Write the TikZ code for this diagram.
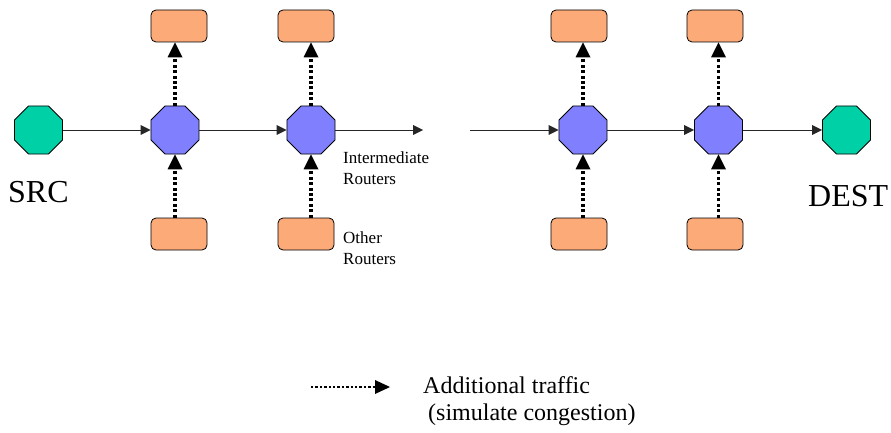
\documentclass[tikz,border=0pt]{standalone}
\usepackage{fontspec}
\setmainfont{Liberation Serif}
\newfontfamily\timesfont{Liberation Serif}
\usetikzlibrary{shapes.geometric,arrows.meta}
\definecolor{srcgreen}{RGB}{0,208,166}
\definecolor{routerblue}{RGB}{128,128,255}
\definecolor{boxorange}{RGB}{252,170,120}
\begin{document}
\begin{tikzpicture}[x=1pt,y=-1pt,
  endpt/.style={regular polygon, regular polygon sides=8, minimum size=52pt, inner sep=0pt, fill=srcgreen, draw=black, line width=0.8pt},
  router/.style={regular polygon, regular polygon sides=8, minimum size=52pt, inner sep=0pt, fill=routerblue, draw=black, line width=0.8pt},
  otherbox/.style={rectangle, rounded corners=5pt, minimum width=56pt, minimum height=32pt, inner sep=0pt, fill=boxorange, draw=black, line width=0.8pt},
  flow/.style={draw=black!85, line width=0.9pt, -{Triangle[length=10pt,width=10pt,line width=0pt]}},
  traffic/.style={draw=black, line width=3.2pt, dash pattern=on 3pt off 2.4pt, -{Triangle[length=15pt,width=15pt,line width=0pt]}},
  legendtraffic/.style={draw=black, line width=2.4pt, dash pattern=on 2.4pt off 2pt, -{Triangle[length=15pt,width=14pt,line width=0pt]}},
  lbl/.style={anchor=base west, inner sep=0pt, font=\timesfont\fontsize{17}{20}\selectfont},
  biglbl/.style={anchor=base west, inner sep=0pt, font=\timesfont\fontsize{32}{36}\selectfont},
  leglbl/.style={anchor=base west, inner sep=0pt, font=\timesfont\fontsize{24}{28}\selectfont}]
\useasboundingbox (0,0) rectangle (891,433);

\node[endpt] (src) at (38.5,130) {};
\node[router] (r1) at (175,130) {};
\node[router] (r2) at (311,130) {};
\node[router] (r3) at (583,130) {};
\node[router] (r4) at (718.5,130) {};
\node[endpt] (dest) at (846.5,130) {};

\node[otherbox] (t1) at (179,26) {};
\node[otherbox] (b1) at (179,234) {};
\node[otherbox] (t2) at (306,26) {};
\node[otherbox] (b2) at (306,234) {};
\node[otherbox] (t3) at (579,26) {};
\node[otherbox] (b3) at (579,234) {};
\node[otherbox] (t4) at (715,26) {};
\node[otherbox] (b4) at (715,234) {};

\coordinate (gapL) at (423,130);
\coordinate (gapR) at (470,130);

\draw[flow] (src) -- (r1);
\draw[flow] (r1) -- (r2);
\draw[flow] (r2) -- (gapL);
\draw[flow] (gapR) -- (r3);
\draw[flow] (r3) -- (r4);
\draw[flow] (r4) -- (dest);

\foreach \r/\t/\b in {r1/t1/b1, r2/t2/b2, r3/t3/b3, r4/t4/b4}{
  \draw[traffic] (\r.north) -- (\r.north |- \t.south);
  \draw[traffic] (\r.south |- \b.north) -- (\r.south);
}

\node[biglbl] (srclbl) at (8,202) {SRC};
\node[biglbl] (destlbl) at (808,206) {DEST};
\node[lbl] (im1) at (343,163) {Intermediate};
\node[lbl] (im2) at (343,184) {Routers};
\node[lbl] (or1) at (343,243) {Other};
\node[lbl] (or2) at (343,264) {Routers};

\coordinate (legA) at (311,387);
\coordinate (legB) at (390,387);
\draw[legendtraffic] (legA) -- (legB);
\node[leglbl] (leg1) at (423,393) {Additional traffic};
\node[leglbl] (leg2) at (428,420) {(simulate congestion)};
\end{tikzpicture}
\end{document}
